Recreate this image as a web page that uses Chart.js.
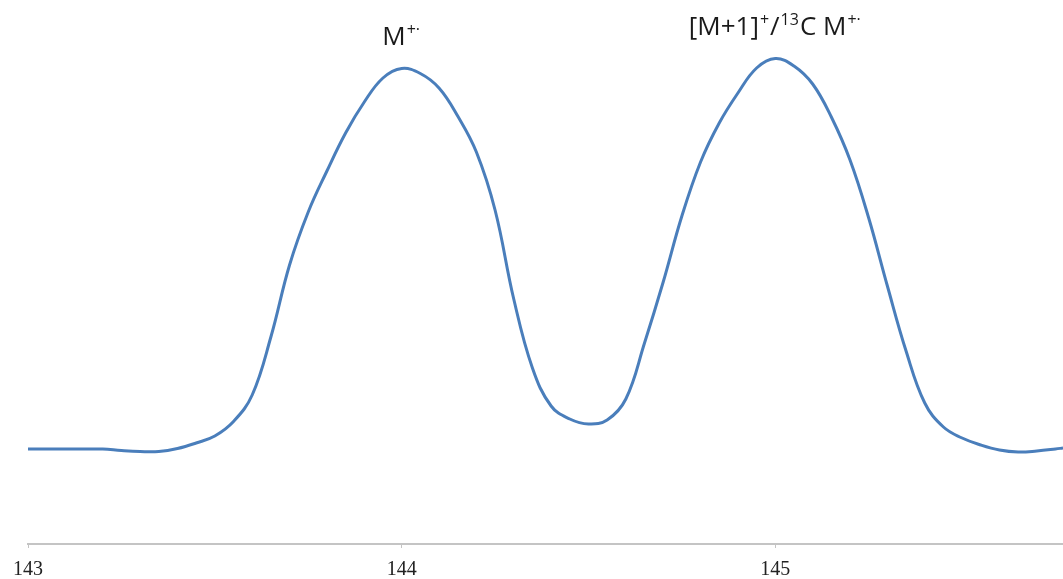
<!DOCTYPE html>
<html>
<head>
<meta charset="utf-8">
<script src="https://cdn.jsdelivr.net/npm/chart.js@4/dist/chart.umd.min.js"></script>
<style>
  html, body { margin: 0; padding: 0; background: #fff; }
  #wrap { width: 1063px; height: 579px; }
</style>
</head>
<body>
<div id="wrap"><canvas id="spectrum" width="1063" height="579"></canvas></div>
<script>
// m/z sampling of the trace
const mzValues = [
  143.00, 143.05, 143.10, 143.15, 143.20, 143.25, 143.30, 143.35, 143.40, 143.45,
  143.50, 143.55, 143.60, 143.65, 143.70, 143.75, 143.80, 143.85, 143.90, 143.95,
  144.00, 144.05, 144.10, 144.15, 144.20, 144.25, 144.30, 144.35, 144.40, 144.45,
  144.50, 144.55, 144.60, 144.65, 144.70, 144.75, 144.80, 144.85, 144.90, 144.95,
  145.00, 145.05, 145.10, 145.15, 145.20, 145.25, 145.30, 145.35, 145.40, 145.45,
  145.50, 145.55, 145.60, 145.65, 145.70, 145.75, 145.77
];

// relative abundance (arbitrary units)
const intensity = [
  19.0, 19.0, 19.0, 19.0, 19.0, 18.7, 18.5, 18.5, 19.1, 20.2,
  21.6, 24.5, 29.8, 41.4, 55.8, 66.4, 74.6, 82.2, 88.4, 93.2,
  95.1, 94.1, 91.2, 85.6, 78.4, 66.8, 49.0, 35.2, 27.6, 25.0,
  24.0, 24.8, 29.0, 40.2, 52.4, 65.6, 76.4, 84.2, 90.2, 95.2,
  97.1, 95.6, 92.0, 85.4, 76.8, 65.2, 51.6, 38.6, 28.2, 23.4,
  21.2, 19.8, 18.8, 18.4, 18.6, 19.0, 19.2
];

const tickValues = [143, 144, 145];

// peak annotations: position and text runs ([text, superscript?])
const peakLabelMz = [144, 145];
const peakLabelParts = [
  [['M', false], ['+·', true]],
  [['[M+1]', false], ['+', true], ['/', false], ['13', true], ['C M', false], ['+·', true]]
];

const LINE_COLOR = '#4a7ebb';
const MAIN_FONT = '26px "Open Sans"';
const SUP_FONT = '16px "Open Sans"';

/* === Peak labels with superscripts === */
const peakLabelPlugin = {
  id: 'peakLabels',
  afterDatasetsDraw(chart) {
    const ctx = chart.ctx;
    const xs = chart.scales.x;
    const ys = chart.scales.y;

    ctx.save();
    ctx.fillStyle = '#1a1a1a';
    ctx.textBaseline = 'alphabetic';
    ctx.textAlign = 'left';

    peakLabelMz.forEach((mz, i) => {
      const parts = peakLabelParts[i];
      const idx = mzValues.indexOf(mz);
      const baseY = ys.getPixelForValue(intensity[idx]) - 24;

      let total = 0;
      parts.forEach(([t, sup]) => {
        ctx.font = sup ? SUP_FONT : MAIN_FONT;
        total += ctx.measureText(t).width + (sup ? 2 : 0);
      });

      let x = xs.getPixelForValue(mz) - total / 2;
      parts.forEach(([t, sup]) => {
        ctx.font = sup ? SUP_FONT : MAIN_FONT;
        if (sup) x += 1;
        ctx.fillText(t, x, sup ? baseY - 10 : baseY);
        x += ctx.measureText(t).width + (sup ? 1 : 0);
      });
    });
    ctx.restore();
  }
};

const ctx = document.getElementById('spectrum').getContext('2d');
new Chart(ctx, {
  type: 'line',
  data: {
    datasets: [{
      data: mzValues.map((mz, i) => ({ x: mz, y: intensity[i] })),
      borderColor: LINE_COLOR,
      borderWidth: 3,
      pointRadius: 0,
      fill: false,
      tension: 0.4,
      clip: false
    }]
  },
  options: {
    responsive: false,
    animation: false,
    devicePixelRatio: 1,
    layout: { padding: { top: 44, left: 28, right: 0, bottom: -13 } },
    scales: {
      x: {
        type: 'linear',
        min: 143,
        max: 145.77,
        afterBuildTicks: scale => { scale.ticks = tickValues.map(v => ({ value: v })); },
        ticks: {
          font: { family: '"Liberation Serif"', size: 20 },
          color: '#222',
          padding: 10,
          maxRotation: 0
        },
        grid: { display: true, drawOnChartArea: false, drawTicks: true, tickLength: 4, color: '#c4c4c4' },
        border: { display: true, color: '#c4c4c4', width: 2 }
      },
      y: { display: false, min: 0, max: 100 }
    },
    plugins: { legend: { display: false }, tooltip: { enabled: false } }
  },
  plugins: [peakLabelPlugin]
});
</script>
</body>
</html>
